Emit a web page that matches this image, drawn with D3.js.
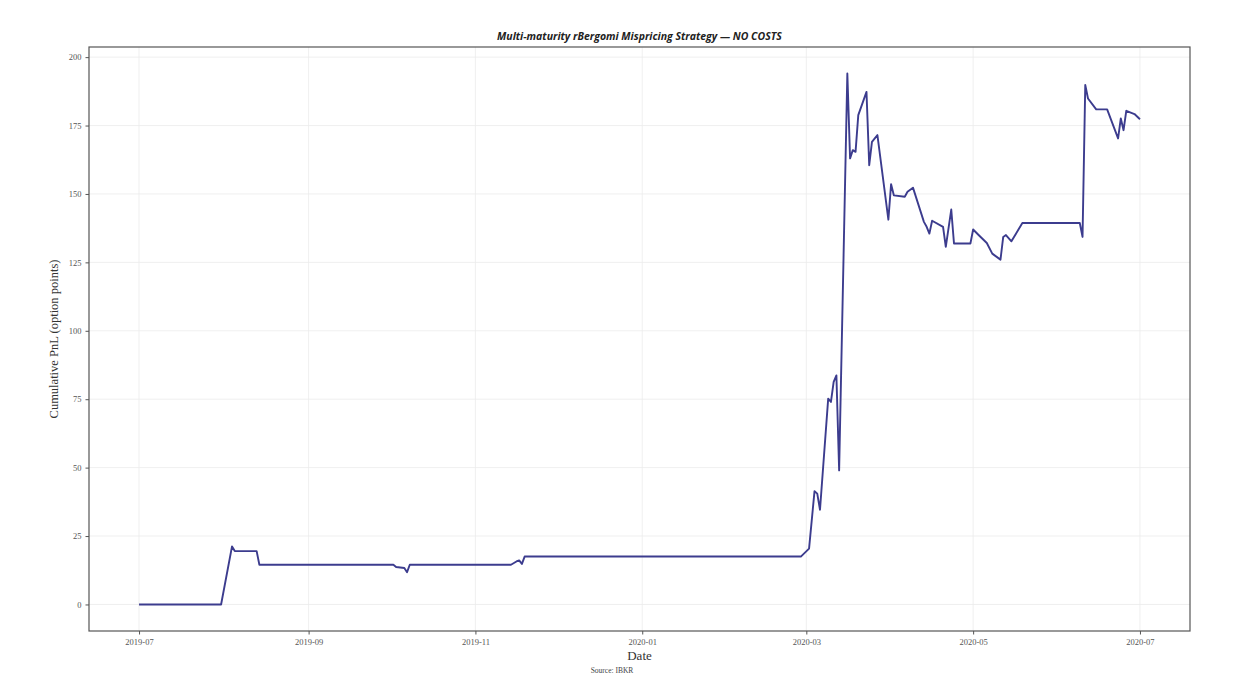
<!DOCTYPE html>
<html>
<head>
<meta charset="utf-8">
<script src="https://cdn.jsdelivr.net/npm/d3@7"></script>
<style>
  html, body { margin: 0; padding: 0; background: #fff; }
  svg { display: block; }
</style>
</head>
<body>
<svg id="chart" width="1256" height="684"></svg>
<script>
// ---- data ----
const dates = [
  "2019-07-01","2019-07-31","2019-08-04","2019-08-05","2019-08-13","2019-08-14",
  "2019-10-02","2019-10-03","2019-10-06","2019-10-07","2019-10-08",
  "2019-11-14","2019-11-16","2019-11-17","2019-11-18","2019-11-19",
  "2020-02-28","2020-03-02","2020-03-04","2020-03-05","2020-03-06","2020-03-09",
  "2020-03-10","2020-03-11","2020-03-12","2020-03-13","2020-03-16","2020-03-17",
  "2020-03-18","2020-03-19","2020-03-20","2020-03-23","2020-03-24","2020-03-25",
  "2020-03-27","2020-03-31","2020-04-01","2020-04-02","2020-04-06","2020-04-07",
  "2020-04-09","2020-04-13","2020-04-14","2020-04-15","2020-04-16","2020-04-20",
  "2020-04-21","2020-04-23","2020-04-24","2020-04-30","2020-05-01","2020-05-03",
  "2020-05-06","2020-05-08","2020-05-11","2020-05-12","2020-05-13","2020-05-15",
  "2020-05-19","2020-06-09","2020-06-10","2020-06-11","2020-06-12","2020-06-15",
  "2020-06-19","2020-06-23","2020-06-24","2020-06-25","2020-06-26","2020-06-29",
  "2020-07-01"
];
const pnl = [
  0, 0, 21.2, 19.5, 19.5, 14.5,
  14.5, 13.7, 13.3, 11.8, 14.5,
  14.5, 15.7, 16.1, 14.8, 17.5,
  17.5, 20.4, 41.4, 40.5, 34.6, 75.2,
  74.0, 81.3, 83.7, 49.0, 194.0, 163.0,
  166.0, 165.4, 178.8, 187.3, 160.5, 169.0,
  171.5, 140.6, 153.6, 149.5, 149.0, 150.8,
  152.3, 139.8, 138.0, 135.5, 140.2, 138.0,
  130.7, 144.3, 131.9, 131.9, 137.0, 135.0,
  132.1, 128.2, 126.0, 134.3, 135.0, 132.7,
  139.4, 139.4, 134.3, 189.8, 184.9, 180.9,
  180.9, 170.3, 177.6, 173.3, 180.4, 179.2,
  177.3
];
const yTicks = [0, 25, 50, 75, 100, 125, 150, 175, 200];
const xTickLabels = ["2019-07","2019-09","2019-11","2020-01","2020-03","2020-05","2020-07"];
const titleText = "Multi-maturity rBergomi Mispricing Strategy — NO COSTS";
const xLabelText = "Date";
const yLabelText = "Cumulative PnL (option points)";
const sourceText = "Source: IBKR";

// ---- layout ----
const svg = d3.select("#chart");
const plot = { left: 89, right: 1190, top: 47, bottom: 631 };
const parse = d3.utcParse("%Y-%m-%d");
const parseMonth = d3.utcParse("%Y-%m");
const data = dates.map((d, i) => ({ date: parse(d), v: pnl[i] }));

const xExt = d3.extent(data, d => d.date);
const xPad = (xExt[1] - xExt[0]) * 0.05;
const x = d3.scaleUtc()
  .domain([new Date(+xExt[0] - xPad), new Date(+xExt[1] + xPad)])
  .range([plot.left, plot.right]);

const yExt = d3.extent(data, d => d.v);
const yPad = (yExt[1] - yExt[0]) * 0.05;
const y = d3.scaleLinear()
  .domain([yExt[0] - yPad, yExt[1] + yPad])
  .range([plot.bottom, plot.top]);

const xTickDates = xTickLabels.map(s => parseMonth(s));
const serif = "'Liberation Serif', 'DejaVu Serif', serif";

// grid
const grid = svg.append("g");
grid.selectAll("line.gx").data(xTickDates).join("line")
  .attr("x1", d => x(d)).attr("x2", d => x(d))
  .attr("y1", plot.top).attr("y2", plot.bottom)
  .attr("stroke", "#ebebeb").attr("stroke-width", 0.8);
grid.selectAll("line.gy").data(yTicks).join("line")
  .attr("x1", plot.left).attr("x2", plot.right)
  .attr("y1", d => y(d)).attr("y2", d => y(d))
  .attr("stroke", "#ebebeb").attr("stroke-width", 0.8);

// line
const line = d3.line().x(d => x(d.date)).y(d => y(d.v));
svg.append("path").datum(data)
  .attr("d", line)
  .attr("fill", "none")
  .attr("stroke", "#3c3c8e")
  .attr("stroke-width", 1.9)
  .attr("stroke-linejoin", "round");

// axes
const xAxis = d3.axisBottom(x)
  .tickValues(xTickDates)
  .tickFormat((d, i) => xTickLabels[i])
  .tickSize(3.5).tickSizeOuter(0).tickPadding(4);
const gx = svg.append("g").attr("transform", `translate(0,${plot.bottom})`).call(xAxis);
gx.select(".domain").remove();
gx.selectAll("line").attr("stroke", "#555");
gx.selectAll("text").attr("font-family", serif).attr("font-size", 8.5).attr("fill", "#555");

const yAxis = d3.axisLeft(y).tickValues(yTicks)
  .tickSize(3.5).tickSizeOuter(0).tickPadding(4);
const gy = svg.append("g").attr("transform", `translate(${plot.left},0)`).call(yAxis);
gy.select(".domain").remove();
gy.selectAll("line").attr("stroke", "#555");
gy.selectAll("text").attr("font-family", serif).attr("font-size", 8.5).attr("fill", "#555");

// frame
svg.append("rect")
  .attr("x", plot.left).attr("y", plot.top)
  .attr("width", plot.right - plot.left).attr("height", plot.bottom - plot.top)
  .attr("fill", "none").attr("stroke", "#555").attr("stroke-width", 1.2);

// texts
svg.append("text")
  .attr("x", (plot.left + plot.right) / 2).attr("y", 40)
  .attr("text-anchor", "middle")
  .attr("font-family", "'Open Sans', 'DejaVu Sans', sans-serif")
  .attr("font-weight", "bold").attr("font-style", "italic")
  .attr("font-size", 10.5).attr("fill", "#222")
  .text(titleText);

svg.append("text")
  .attr("x", (plot.left + plot.right) / 2).attr("y", 660)
  .attr("text-anchor", "middle")
  .attr("font-family", serif).attr("font-size", 13).attr("fill", "#333")
  .text(xLabelText);

svg.append("text")
  .attr("transform", `translate(58,${(plot.top + plot.bottom) / 2}) rotate(-90)`)
  .attr("text-anchor", "middle")
  .attr("font-family", serif).attr("font-size", 12.5).attr("fill", "#333")
  .text(yLabelText);

svg.append("text")
  .attr("x", 612).attr("y", 673)
  .attr("text-anchor", "middle")
  .attr("font-family", serif).attr("font-size", 7.5).attr("fill", "#444")
  .text(sourceText);
</script>
</body>
</html>
